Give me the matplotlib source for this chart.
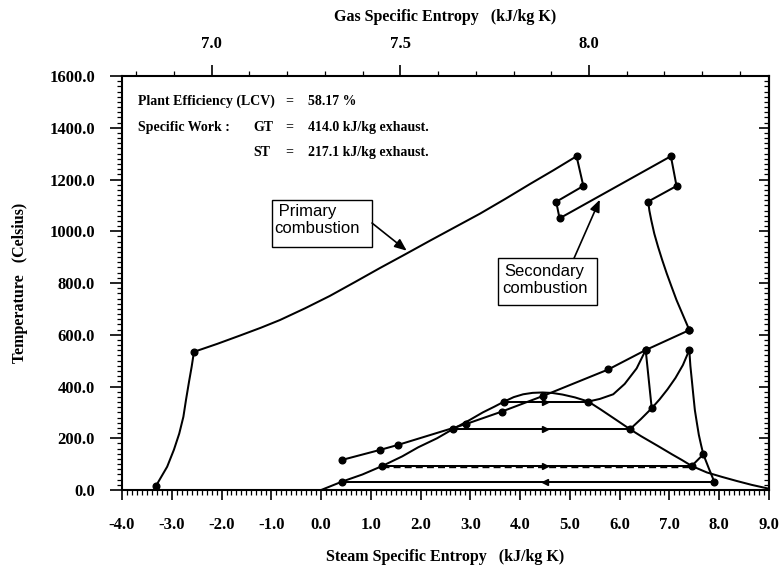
import matplotlib
matplotlib.use("Agg")
import matplotlib.pyplot as plt
from matplotlib.patches import Rectangle
from matplotlib.ticker import MultipleLocator, FixedLocator, FormatStrFormatter

# ---------------- data ----------------
# Steam saturation dome (steam specific entropy kJ/kg K, temperature C)
dome_s = [0.0, 0.414, 0.83, 1.23, 1.63, 1.95, 2.33, 2.645, 2.98, 3.25, 3.48, 3.68,
          3.87, 4.06, 4.25, 4.45, 4.65, 4.85, 5.10, 5.369, 5.62, 5.93, 6.207,
          6.43, 6.77, 7.05, 7.25, 7.447, 7.75, 8.05, 8.35, 8.65, 9.0]
dome_T = [0, 32, 60, 93, 130, 165, 200, 235, 270, 300, 322, 342,
          359, 370, 375.5, 377, 375, 369, 358, 342, 311, 271, 235,
          208, 170, 138, 116, 93, 68, 51, 35, 20, 5]

# Steam cycle (triple pressure, reheat)
cond_s = [7.90, 0.414]
cond_T = [32, 32]
lp_evap_s = [1.23, 7.447]
lp_evap_T = [93, 93]
lp_aux_T = [90, 90]
lp_sh_s = [7.447, 7.68]
lp_sh_T = [93, 138]
ip_evap_s = [2.645, 6.207]
ip_evap_T = [235, 235]
ip_sh_s = [6.207, 6.425, 6.643]
ip_sh_T = [235, 274, 316]
hp_evap_s = [3.68, 5.369]
hp_evap_T = [342, 342]
hp_sh_s = [5.369, 5.60, 5.87, 6.10, 6.34, 6.522]
hp_sh_T = [342, 352, 370, 410, 470, 541]
hp_turb_s = [6.522, 6.643]
hp_turb_T = [541, 316]
reheat_s = [6.643, 6.80, 6.96, 7.12, 7.27, 7.398]
reheat_T = [316, 350, 389, 433, 483, 541]
lp_turb_s = [7.398, 7.420, 7.449, 7.48, 7.51, 7.55, 7.59, 7.635, 7.68, 7.79, 7.90]
lp_turb_T = [541, 480, 425, 365, 309, 260, 213, 174, 138, 84, 32]

steam_pts_s = [0.414, 1.23, 2.645, 3.68, 5.369, 6.522, 6.643, 6.207, 7.398, 7.447, 7.68, 7.90]
steam_pts_T = [32, 93, 235, 342, 342, 541, 316, 235, 541, 93, 138, 32]

# Exhaust gas through the HRSG, on the steam entropy scale
hrsg_s = [7.398, 6.522, 5.771, 4.465, 3.629, 2.912, 1.539, 1.184, 0.414]
hrsg_T = [618, 541, 466, 364, 303, 255, 174, 155, 116]

# Gas turbine with sequential combustion (gas specific entropy kJ/kg K)
comp_g = [6.852, 6.882, 6.900, 6.914, 6.925, 6.932, 6.940, 6.947, 6.953]
comp_T = [15, 90, 156, 218, 283, 349, 419, 477, 534]
comb1_g = [6.953, 7.015, 7.075, 7.130, 7.181, 7.247, 7.313, 7.380, 7.446, 7.513,
           7.579, 7.645, 7.711, 7.778, 7.844, 7.906, 7.967]
comb1_T = [534, 565, 597, 627, 657, 702, 750, 804, 858, 911,
           964, 1016, 1068, 1125, 1183, 1236, 1290]
hpt_g = [7.967, 7.985, 7.913, 7.922]
hpt_T = [1290, 1175, 1114, 1050]
comb2_g = [7.922, 8.217]
comb2_T = [1050, 1290]
lpt_g = [8.217, 8.232, 8.157]
lpt_T = [1290, 1175, 1115]
exp_g = [8.157, 8.160, 8.165, 8.173, 8.183, 8.194, 8.206, 8.219, 8.232, 8.249, 8.266]
exp_T = [1115, 1080, 1043, 991, 940, 889, 837, 785, 734, 676, 618]

gas_pts_g = [6.852, 6.953, 7.967, 7.985, 7.913, 7.922, 8.217, 8.232, 8.157, 8.266]
gas_pts_T = [15, 534, 1290, 1175, 1114, 1050, 1290, 1175, 1115, 618]

steam_xlim = (-4.0, 9.0)
gas_xlim = (6.7623, 8.4771)
ylim = (0, 1600)
arrow_s = 4.5

# ---------------- figure ----------------
SERIF = "Liberation Serif"
SANS = "Liberation Sans"
plt.rcParams["font.family"] = SERIF

fig = plt.figure(figsize=(7.82, 5.69), dpi=100)
ax = fig.add_axes([0.156, 0.1388, 0.8274, 0.7276])
ax.set_xlim(*steam_xlim)
ax.set_ylim(*ylim)

LW = 1.45
MS = 4.8
line_kw = dict(color="black", lw=LW, solid_capstyle="round", solid_joinstyle="round")

ax.plot(dome_s, dome_T, **line_kw)
for xs, ys in [(cond_s, cond_T), (lp_evap_s, lp_evap_T), (lp_sh_s, lp_sh_T),
               (ip_evap_s, ip_evap_T), (ip_sh_s, ip_sh_T), (hp_evap_s, hp_evap_T),
               (hp_sh_s, hp_sh_T), (hp_turb_s, hp_turb_T), (reheat_s, reheat_T),
               (lp_turb_s, lp_turb_T), (hrsg_s, hrsg_T)]:
    ax.plot(xs, ys, **line_kw)
ax.plot(lp_evap_s, lp_aux_T, color="black", lw=1.0, ls=(0, (5, 3)))

ax.plot(steam_pts_s, steam_pts_T, "o", color="black", ms=MS, ls="none")
ax.plot(hrsg_s, hrsg_T, "o", color="black", ms=MS, ls="none")

# flow-direction arrows on the constant-temperature lines
ax.plot([arrow_s], [cond_T[0]], marker="<", color="black", ms=5, ls="none")
for T in (lp_evap_T[0], ip_evap_T[0], hp_evap_T[0]):
    ax.plot([arrow_s], [T], marker=">", color="black", ms=5, ls="none")

# gas turbine on the gas entropy scale
gx = ax.twiny()
gx.set_xlim(*gas_xlim)
gx.set_ylim(*ylim)
for xs, ys in [(comp_g, comp_T), (comb1_g, comb1_T), (hpt_g, hpt_T),
               (comb2_g, comb2_T), (lpt_g, lpt_T), (exp_g, exp_T)]:
    gx.plot(xs, ys, **line_kw)
gx.plot(gas_pts_g, gas_pts_T, "o", color="black", ms=MS, ls="none")

# ---------------- axes styling ----------------
tick_font = dict(family=SERIF, weight="bold", size=12)
for sp in ax.spines.values():
    sp.set_linewidth(1.5)
for sp in gx.spines.values():
    sp.set_visible(False)

ax.xaxis.set_major_locator(MultipleLocator(1.0))
ax.xaxis.set_minor_locator(MultipleLocator(0.1))
ax.xaxis.set_major_formatter(FormatStrFormatter("%.1f"))
ax.yaxis.set_major_locator(MultipleLocator(200))
ax.yaxis.set_minor_locator(MultipleLocator(20))
ax.yaxis.set_major_formatter(FormatStrFormatter("%.1f"))
ax.tick_params(axis="x", which="major", direction="out", length=7.2, width=1.2, pad=12,
               top=False, bottom=True)
ax.tick_params(axis="x", which="minor", direction="out", length=3.6, width=0.9,
               top=False, bottom=True)
ax.tick_params(axis="y", which="major", direction="out", length=8.5, width=1.2, pad=11,
               left=True, right=False)
ax.tick_params(axis="y", which="minor", direction="out", length=3.6, width=0.9,
               left=True, right=False)
for lab in ax.get_xticklabels() + ax.get_yticklabels():
    lab.set_fontproperties(tick_font)

ry = ax.secondary_yaxis("right")
ry.yaxis.set_major_locator(MultipleLocator(200))
ry.yaxis.set_minor_locator(MultipleLocator(20))
ry.tick_params(axis="y", which="major", direction="in", length=7.2, width=1.2, labelright=False)
ry.tick_params(axis="y", which="minor", direction="in", length=3.6, width=0.9)
ry.spines["right"].set_linewidth(1.5)

gx.xaxis.set_major_locator(FixedLocator([7.0, 7.5, 8.0]))
gx.xaxis.set_minor_locator(MultipleLocator(0.1))
gx.xaxis.set_major_formatter(FormatStrFormatter("%.1f"))
gx.tick_params(axis="x", which="major", direction="out", length=8, width=1.2, pad=9,
               top=True, bottom=False, labeltop=True, labelbottom=False)
gx.tick_params(axis="x", which="minor", direction="out", length=3.8, width=0.9,
               top=True, bottom=False)
gx.tick_params(axis="y", which="both", left=False, right=False, labelleft=False, labelright=False)
for lab in gx.get_xticklabels():
    lab.set_fontproperties(tick_font)

label_font = dict(family=SERIF, weight="bold", size=11.5)
ax.set_xlabel("Steam Specific Entropy   (kJ/kg K)", **label_font)
ax.xaxis.label.set_va("center")
ax.xaxis.set_label_coords(0.5, -0.161)
gx.set_xlabel("Gas Specific Entropy   (kJ/kg K)", **label_font)
gx.xaxis.label.set_va("center")
gx.xaxis.set_label_coords(0.5, 1.143)
ax.set_ylabel("Temperature   (Celsius)", **label_font)
ax.yaxis.label.set_va("center")
ax.yaxis.set_label_coords(-0.158, 0.5)

# ---------------- performance summary ----------------
info_font = dict(family=SERIF, weight="bold", size=10, va="center", transform=ax.transAxes)
rows = [(0.9396, "Plant Efficiency (LCV)", None, "58.17 %"),
        (0.8768, "Specific Work :", "GT", "414.0 kJ/kg exhaust."),
        (0.8164, None, "ST", "217.1 kJ/kg exhaust.")]
for y, head, key, val in rows:
    if head:
        ax.text(0.0247, y, head, **info_font)
    if key:
        ax.text(0.2025, y, key, **info_font)
    ax.text(0.252, y, "=", **info_font)
    ax.text(0.2875, y, val, **info_font)

# ---------------- combustion call-outs ----------------
box_kw = dict(transform=ax.transAxes, fill=False, edgecolor="black", lw=1.0, zorder=5)
ax.add_patch(Rectangle((0.2318, 0.5870), 0.1546, 0.1135, **box_kw))
ax.text(0.2349, 0.652, " Primary\ncombustion", transform=ax.transAxes, family=SANS,
        size=12, ha="left", va="center", linespacing=1.15, zorder=6)
ax.add_patch(Rectangle((0.5816, 0.4469), 0.1530, 0.1140, **box_kw))
ax.text(0.653, 0.507, "Secondary\ncombustion", transform=ax.transAxes, family=SANS,
        size=12, ha="center", va="center", multialignment="center", linespacing=1.15, zorder=6)

arrow_kw = dict(arrowstyle="-|>,head_length=0.6,head_width=0.25", color="black", lw=1.2,
                shrinkA=0, shrinkB=0, mutation_scale=12)
ax.annotate("", xy=(1.72, 925), xycoords="data", xytext=(0.3864, 0.6449),
            textcoords="axes fraction", arrowprops=arrow_kw, zorder=6)
ax.annotate("", xy=(5.60, 1122), xycoords="data", xytext=(0.6986, 0.5597),
            textcoords="axes fraction", arrowprops=arrow_kw, zorder=6)

fig.savefig("out.png", dpi=100)
